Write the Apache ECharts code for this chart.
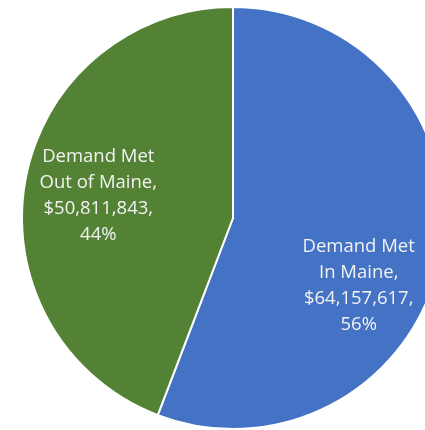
<!DOCTYPE html>
<html>
<head>
<meta charset="utf-8">
<script src="https://cdn.jsdelivr.net/npm/echarts@6/dist/echarts.min.js"></script>
<style>
  html, body { margin: 0; padding: 0; background: #fff; }
  #chart { width: 425px; height: 430px; }
</style>
</head>
<body>
<div id="chart"></div>
<script>
// data
var names = ['Demand Met\nIn Maine', 'Demand Met\nOut of Maine'];
var values = [64157617, 50811843];
var colors = ['#4472C4', '#548235'];
// label nudges so text sits where the original has it
var labelOffsets = [[19, 48], [-28, -3]];

var total = values.reduce(function (a, b) { return a + b; }, 0);

function fmtMoney(v) {
  return '$' + v.toString().replace(/\B(?=(\d{3})+(?!\d))/g, ',');
}

var chart = echarts.init(document.getElementById('chart'));

chart.setOption({
  animation: false,
  series: [{
    type: 'pie',
    center: [233, 218],
    radius: 211,
    startAngle: 90,
    clockwise: true,
    avoidLabelOverlap: false,
    itemStyle: { borderColor: '#fff', borderWidth: 2 },
    label: {
      position: 'inside',
      color: '#f2f2f2',
      fontFamily: 'Open Sans',
      fontSize: 18.5,
      lineHeight: 26,
      align: 'center',
      formatter: function (p) {
        var pct = Math.round(p.value / total * 100);
        return p.name + ',\n' + fmtMoney(p.value) + ',\n' + pct + '%';
      }
    },
    labelLine: { show: false },
    emphasis: { disabled: true },
    data: names.map(function (n, i) {
      return {
        name: n,
        value: values[i],
        itemStyle: { color: colors[i] },
        label: { offset: labelOffsets[i] }
      };
    })
  }]
});
</script>
</body>
</html>
